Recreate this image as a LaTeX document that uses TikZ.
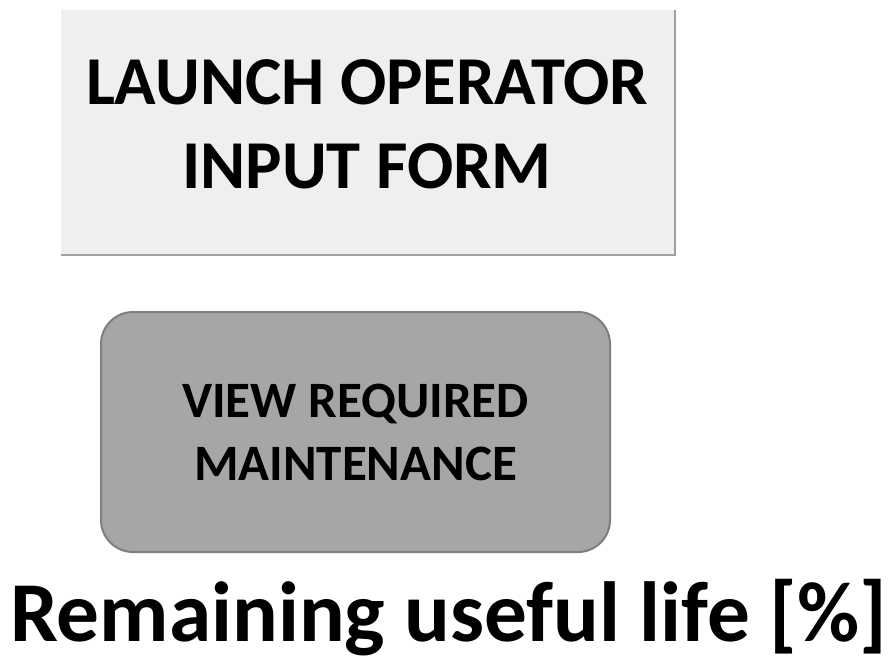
\documentclass[tikz,border=0pt]{standalone}
\usepackage{fontspec}
\setmainfont{Carlito}
\begin{document}
\begin{tikzpicture}[x=1pt,y=-1pt,
  formbox/.style={fill=formgray, minimum width=614pt, minimum height=245pt,
    inner sep=0pt},
  formtext/.style={inner sep=0pt, align=center,
    font=\bfseries\fontsize{68.5}{84}\selectfont},
  maintbox/.style={fill=maintgray, draw=maintedge, line width=2pt,
    rounded corners=32pt, minimum width=509pt, minimum height=240pt,
    inner sep=0pt, align=center, font=\bfseries\fontsize{51}{63}\selectfont},
  rultext/.style={inner sep=0pt, font=\bfseries\fontsize{85.3}{100}\selectfont}]
\definecolor{formgray}{HTML}{EFEFEF}
\definecolor{formedge}{HTML}{A0A0A0}
\definecolor{maintgray}{HTML}{A6A6A6}
\definecolor{maintedge}{HTML}{7F7F7F}
% page frame
\useasboundingbox (0,0) rectangle (889,662);
% operator input form button, shaded along its right and bottom sides
\node[formbox] (form) at (368,132.5) {};
\draw[formedge, line width=2pt] (form.north east) -- (form.south east) -- (form.south west);
\node[formtext] (formlabel) at (367,124.5) {LAUNCH OPERATOR\\INPUT FORM};
% maintenance button
\node[maintbox] (maint) at (355.5,432) {VIEW REQUIRED\\MAINTENANCE};
% gauge caption
\node[rultext, anchor=base] (rul) at (448.5,641) {Remaining useful life [\%]};
\end{tikzpicture}
\end{document}
